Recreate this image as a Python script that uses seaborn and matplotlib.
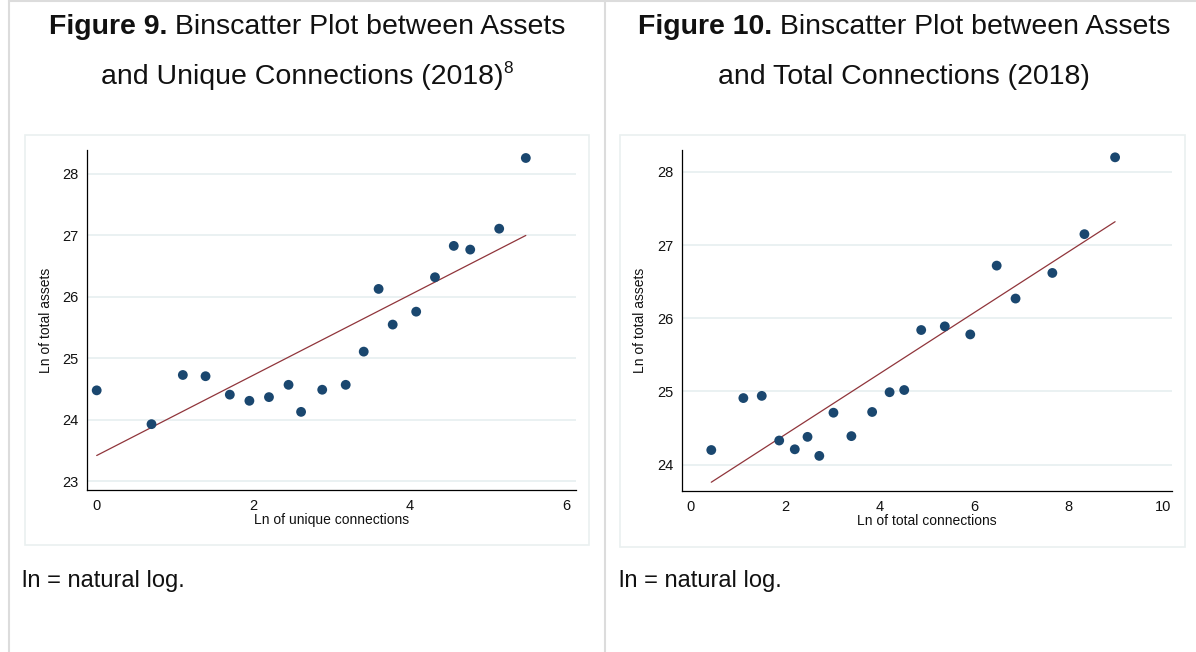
import numpy as np
import pandas as pd
import seaborn as sns
import matplotlib
matplotlib.use("Agg")
import matplotlib.pyplot as plt
from matplotlib.patches import Rectangle
from matplotlib.lines import Line2D

# ---------------- data ----------------
unique_x = [0.00, 0.70, 1.10, 1.39, 1.70, 1.95, 2.20, 2.45, 2.61, 2.88,
            3.18, 3.41, 3.60, 3.78, 4.08, 4.32, 4.56, 4.77, 5.14, 5.48]
unique_y = [24.48, 23.93, 24.73, 24.71, 24.41, 24.31, 24.37, 24.57, 24.13, 24.49,
            24.57, 25.11, 26.13, 25.55, 25.76, 26.32, 26.83, 26.77, 27.11, 28.26]
unique_fit_x = [0.00, 5.48]
unique_fit_y = [23.42, 27.00]

total_x = [0.43, 1.11, 1.50, 1.87, 2.20, 2.47, 2.72, 3.02, 3.40, 3.84,
           4.21, 4.52, 4.88, 5.38, 5.92, 6.48, 6.88, 7.66, 8.34, 8.99]
total_y = [24.20, 24.91, 24.94, 24.33, 24.21, 24.38, 24.12, 24.71, 24.39, 24.72,
           24.99, 25.02, 25.84, 25.89, 25.78, 26.72, 26.27, 26.62, 27.15, 28.20]
total_fit_x = [0.43, 8.99]
total_fit_y = [23.76, 27.32]

unique_xticks = [0, 2, 4, 6]
unique_yticks = [23, 24, 25, 26, 27, 28]
total_xticks = [0, 2, 4, 6, 8, 10]
total_yticks = [24, 25, 26, 27, 28]

ylabel = "Ln of total assets"
xlabel_left = "Ln of unique connections"
xlabel_right = "Ln of total connections"
# (bold part, regular part, superscript)
title_left = [("Figure 9.", " Binscatter Plot between Assets", ""),
              ("", "and Unique Connections (2018)", "8")]
title_right = [("Figure 10.", " Binscatter Plot between Assets", ""),
               ("", "and Total Connections (2018)", "")]
note = "ln = natural log."

# ---------------- style ----------------
sns.set_theme(style="white")
plt.rcParams["font.family"] = ["Liberation Sans", "DejaVu Sans"]

NAVY = "#1a476f"
MAROON = "#90353b"
GRID = "#e8f0f1"
TXT = "#111111"
W, H = 1196, 652
fig = plt.figure(figsize=(W / 100, H / 100), dpi=100)
fig.patch.set_facecolor("white")


def fx(px):
    return px / W


def fy(py):
    return 1 - py / H


# outer table-like borders
for xpix in (9, 605):
    fig.add_artist(Line2D([fx(xpix), fx(xpix)], [0, 1], color="#dcdcdc", lw=1.5))
fig.add_artist(Line2D([fx(9), 1], [fy(1), fy(1)], color="#dcdcdc", lw=1.5))

# chart image frames
for (x0, y0, x1, y1) in [(25, 135, 589, 545), (620, 135, 1185, 547)]:
    fig.add_artist(Rectangle((fx(x0), fy(y1)), fx(x1 - x0), (y1 - y0) / H,
                             fill=False, edgecolor="#eaf0f0", lw=1.2))


def panel(rect, xs, ys, fxs, fys, xticks, yticks, xlim, ylim, xlabel):
    ax = fig.add_axes(rect)
    ax.set_facecolor("white")
    df = pd.DataFrame({"x": xs, "y": ys})
    dfit = pd.DataFrame({"x": fxs, "y": fys})
    for t in yticks:
        ax.axhline(t, color=GRID, lw=1.3, zorder=0)
    sns.lineplot(data=dfit, x="x", y="y", ax=ax, color=MAROON, lw=0.9, zorder=2)
    sns.scatterplot(data=df, x="x", y="y", ax=ax, color=NAVY, s=50,
                    edgecolor="none", zorder=3)
    ax.set_xlim(*xlim)
    ax.set_ylim(*ylim)
    ax.set_xticks(xticks)
    ax.set_yticks(yticks)
    ax.set_xticklabels([str(t) for t in xticks])
    ax.set_yticklabels([str(t) for t in yticks])
    for s in ("top", "right"):
        ax.spines[s].set_visible(False)
    for s in ("left", "bottom"):
        ax.spines[s].set_color("black")
        ax.spines[s].set_linewidth(0.9)
    ax.tick_params(axis="both", direction="out", length=4, width=0.8,
                   color="black", labelsize=10.5, labelcolor=TXT, pad=2)
    ax.set_xlabel(xlabel, fontsize=10, labelpad=0, color=TXT)
    ax.set_ylabel(ylabel, fontsize=10, labelpad=7, color=TXT)
    ax.grid(False)
    return ax


axL = panel([fx(87.3), fy(490.3), fx(575.7 - 87.3), (490.3 - 150) / H],
            unique_x, unique_y, unique_fit_x, unique_fit_y,
            unique_xticks, unique_yticks, (-0.12, 6.117), (22.854, 28.39),
            xlabel_left)
axR = panel([fx(681.7), fy(491.3), fx(1171.7 - 681.7), (491.3 - 150) / H],
            total_x, total_y, total_fit_x, total_fit_y,
            total_xticks, total_yticks, (-0.197, 10.19), (23.636, 28.30),
            xlabel_right)

# titles: mixed bold/regular/superscript, centered as one unit
renderer = fig.canvas.get_renderer()
TFS = 20.5


def title_line(cx, ypix, bold, regular, sup):
    parts = []
    if bold:
        parts.append(fig.text(0, fy(ypix), bold, fontsize=TFS, fontweight="bold",
                              va="baseline", ha="left", color=TXT))
    parts.append(fig.text(0, fy(ypix), regular, fontsize=TFS, va="baseline",
                          ha="left", color=TXT))
    if sup:
        parts.append(fig.text(0, fy(ypix) + 11 / H, sup, fontsize=TFS * 0.6,
                              va="baseline", ha="left", color=TXT))
    widths = [p.get_window_extent(renderer).width for p in parts]
    total = sum(widths)
    x = cx - total / 2
    for p, w in zip(parts, widths):
        p.set_x(fx(x))
        x += w


for cx, lines in [(307, title_left), (904, title_right)]:
    title_line(cx, 34, *lines[0])
    title_line(cx, 84, *lines[1])

# notes
fig.text(fx(22), fy(581), note, ha="left", va="center", fontsize=17, color=TXT)
fig.text(fx(619), fy(581), note, ha="left", va="center", fontsize=17, color=TXT)

fig.savefig("out.png", dpi=100, facecolor="white")
